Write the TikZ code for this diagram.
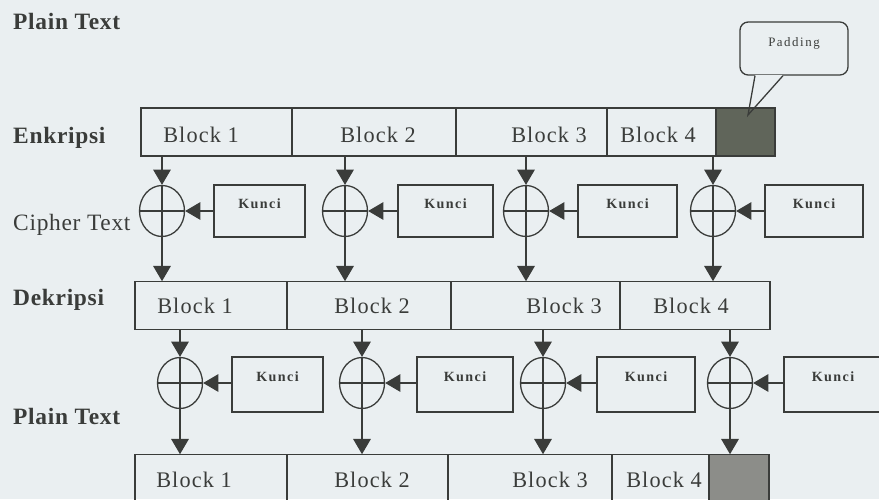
\documentclass[tikz,border=0pt]{standalone}
\usepackage{fontspec}
\setmainfont{Liberation Serif}
\usetikzlibrary{arrows.meta,shapes.geometric}
\definecolor{paper}{RGB}{234,239,241}
\definecolor{ink}{RGB}{58,60,58}
\definecolor{padfill}{RGB}{96,101,90}
\definecolor{padlight}{RGB}{140,141,137}

\begin{document}
\begin{tikzpicture}[x=0.03cm,y=-0.03cm,>={Triangle[length=13pt,width=15pt]},
  blk/.style={draw=ink,line width=1.1pt,inner sep=0pt,minimum height=1.42cm},
  blktxt/.style={anchor=base,inner sep=0pt,text=ink,font=\fontsize{19}{22}\selectfont\addfontfeature{LetterSpace=5}},
  lbl/.style={anchor=base west,inner sep=0pt,text=ink,font=\fontsize{20}{24}\selectfont\addfontfeature{LetterSpace=3}},
  xor/.style={ellipse,draw=ink,line width=1.1pt,inner sep=0pt,minimum width=1.35cm,minimum height=1.53cm,
    path picture={\draw[ink,line width=.9pt] (path picture bounding box.north) -- (path picture bounding box.south)
      (path picture bounding box.west) -- (path picture bounding box.east);}},
  keybox/.style={draw=ink,line width=1.1pt,inner sep=0pt,text=ink,text height=7pt,text depth=12pt,
    font=\fontsize{12}{14}\selectfont\bfseries\addfontfeature{LetterSpace=10}},
  arr/.style={->,draw=ink,fill=ink,line width=1pt}]
\clip (0,0) rectangle (879,499);
\fill[paper] (0,0) rectangle (879,499);
% side labels
\node[lbl] (plaintop) at (13,29) {\bfseries Plain Text};
\node[lbl] (enklbl) at (13,143) {\bfseries Enkripsi};
\node[lbl] (cipherlbl) at (13,230) {Cipher Text};
\node[lbl] (deklbl) at (13,305) {\bfseries Dekripsi};
\node[lbl] (plainbot) at (13,424) {\bfseries Plain Text};
% enkripsi row
\node[blk,minimum width=4.53cm,minimum height=1.44cm] (enk1) at (216.5,132) {};
\node[blk,minimum width=4.92cm,minimum height=1.44cm] (enk2) at (374,132) {};
\node[blk,minimum width=4.53cm,minimum height=1.44cm] (enk3) at (531.5,132) {};
\node[blk,minimum width=3.27cm,minimum height=1.44cm] (enk4) at (661.5,132) {};
\node[blk,minimum width=1.77cm,minimum height=1.44cm,fill=padfill] (enkpad) at (745.5,132) {};
\node[blktxt] (enk1t) at (201,142) {Block 1};
\node[blktxt] (enk2t) at (378,142) {Block 2};
\node[blktxt] (enk3t) at (549,142) {Block 3};
\node[blktxt] (enk4t) at (658,142) {Block 4};
% padding note
\node[draw=ink,line width=1.1pt,rounded corners=7pt,minimum width=3.24cm,minimum height=1.59cm,inner sep=0pt,
  text=ink,text height=7pt,text depth=11pt,font=\fontsize{11}{13}\selectfont\addfontfeature{LetterSpace=12}] (padnote) at (794,48.5) {Padding};
\coordinate (padtip) at (748,115);
\draw[paper,line width=1.9pt] ([xshift=-1.17cm]padnote.south) -- ([xshift=-0.33cm]padnote.south);
\draw[ink,line width=1.1pt] ([xshift=-1.17cm]padnote.south) -- (padtip) -- ([xshift=-0.33cm]padnote.south);
% encryption xor
\node[xor] (cir1) at (162,211) {};
\node[xor] (cir2) at (345,211) {};
\node[xor] (cir3) at (526,211) {};
\node[xor] (cir4) at (713,211) {};
\node[keybox,minimum width=2.73cm,minimum height=1.56cm] (key1) at (259.5,211) {Kunci};
\node[keybox,minimum width=2.85cm,minimum height=1.56cm] (key2) at (445.5,211) {Kunci};
\node[keybox,minimum width=2.97cm,minimum height=1.56cm] (key3) at (627.5,211) {Kunci};
\node[keybox,minimum width=2.94cm,minimum height=1.56cm] (key4) at (814,211) {Kunci};
% dekripsi row
\node[blk,minimum width=4.56cm] (dek1) at (211,305.5) {};
\node[blk,minimum width=4.92cm] (dek2) at (369,305.5) {};
\node[blk,minimum width=5.07cm] (dek3) at (535.5,305.5) {};
\node[blk,minimum width=4.5cm] (dek4) at (695,305.5) {};
\node[blktxt] (dek1t) at (195,313) {Block 1};
\node[blktxt] (dek2t) at (372,313) {Block 2};
\node[blktxt] (dek3t) at (564,313) {Block 3};
\node[blktxt] (dek4t) at (691,313) {Block 4};
% decryption xor
\node[xor] (dcir1) at (180,383) {};
\node[xor] (dcir2) at (362,383) {};
\node[xor] (dcir3) at (543,383) {};
\node[xor] (dcir4) at (730,383) {};
\node[keybox,minimum width=2.73cm,minimum height=1.65cm] (dkey1) at (277.5,384.5) {Kunci};
\node[keybox,minimum width=2.88cm,minimum height=1.65cm] (dkey2) at (465,384.5) {Kunci};
\node[keybox,minimum width=2.94cm,minimum height=1.65cm] (dkey3) at (646,384.5) {Kunci};
\node[keybox,minimum width=2.94cm,minimum height=1.65cm] (dkey4) at (833,384.5) {Kunci};
% plain text row
\node[blk,minimum width=4.56cm] (pln1) at (211,478.5) {};
\node[blk,minimum width=4.83cm] (pln2) at (367.5,478.5) {};
\node[blk,minimum width=4.92cm] (pln3) at (530,478.5) {};
\node[blk,minimum width=2.91cm] (pln4) at (660.5,478.5) {};
\node[blk,minimum width=1.8cm,fill=padlight] (plnpad) at (739,478.5) {};
\node[blktxt] (pln1t) at (194,487) {Block 1};
\node[blktxt] (pln2t) at (372,487) {Block 2};
\node[blktxt] (pln3t) at (550,487) {Block 3};
\node[blktxt] (pln4t) at (664,487) {Block 4};
% connectors
\draw[arr] (enk1.south -| cir1) -- (cir1.north);
\draw[arr] (enk2.south -| cir2) -- (cir2.north);
\draw[arr] (enk3.south -| cir3) -- (cir3.north);
\draw[arr] (enk4.south -| cir4) -- (cir4.north);
\draw[arr] (key1.west) -- (cir1.east);
\draw[arr] (key2.west) -- (cir2.east);
\draw[arr] (key3.west) -- (cir3.east);
\draw[arr] (key4.west) -- (cir4.east);
\draw[arr] (cir1.south) -- (cir1 |- dek1.north);
\draw[arr] (cir2.south) -- (cir2 |- dek2.north);
\draw[arr] (cir3.south) -- (cir3 |- dek3.north);
\draw[arr] (cir4.south) -- (cir4 |- dek4.north);
\draw[arr] (dek1.south -| dcir1) -- (dcir1.north);
\draw[arr] (dek2.south -| dcir2) -- (dcir2.north);
\draw[arr] (dek3.south -| dcir3) -- (dcir3.north);
\draw[arr] (dek4.south -| dcir4) -- (dcir4.north);
\draw[arr] (dkey1.west |- dcir1) -- (dcir1.east);
\draw[arr] (dkey2.west |- dcir2) -- (dcir2.east);
\draw[arr] (dkey3.west |- dcir3) -- (dcir3.east);
\draw[arr] (dkey4.west |- dcir4) -- (dcir4.east);
\draw[arr] (dcir1.south) -- (dcir1 |- pln1.north);
\draw[arr] (dcir2.south) -- (dcir2 |- pln2.north);
\draw[arr] (dcir3.south) -- (dcir3 |- pln3.north);
\draw[arr] (dcir4.south) -- (dcir4 |- plnpad.north);
\end{tikzpicture}
\end{document}
